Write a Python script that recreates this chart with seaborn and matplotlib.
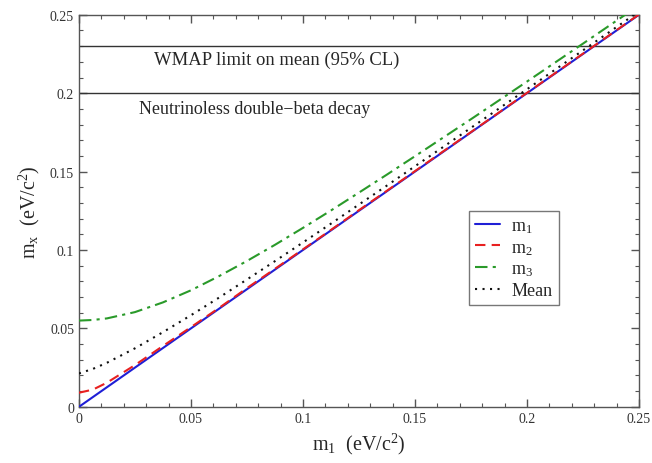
import numpy as np
import pandas as pd
import matplotlib
matplotlib.use("Agg")
import matplotlib.pyplot as plt
import seaborn as sns
from matplotlib.ticker import MultipleLocator

# ---- data ----
m1_grid = [0.0, 0.00625, 0.0125, 0.025, 0.0375, 0.05, 0.0625, 0.075, 0.0875, 0.1,
           0.1125, 0.125, 0.1375, 0.15, 0.1625, 0.175, 0.1875, 0.2, 0.2125,
           0.225, 0.2375, 0.25]
m1_vals = list(m1_grid)
m2_vals = [0.009, 0.0110, 0.0154, 0.0266, 0.0388, 0.0508, 0.0630, 0.0757, 0.0880,
           0.1004, 0.1128, 0.1254, 0.1378, 0.1503, 0.1628, 0.1752, 0.1877,
           0.2002, 0.2127, 0.2252, 0.2377, 0.2502]
m3_vals = [0.0550, 0.0554, 0.0564, 0.0604, 0.0666, 0.0743, 0.0833, 0.0930, 0.1033,
           0.1141, 0.1252, 0.1366, 0.1481, 0.1598, 0.1716, 0.1834, 0.1954,
           0.2074, 0.2195, 0.2316, 0.2438, 0.2560]
mean_vals = [0.0213, 0.0242, 0.0281, 0.0373, 0.0476, 0.0584, 0.0696, 0.0812, 0.0929,
             0.1048, 0.1168, 0.1290, 0.1411, 0.1534, 0.1656, 0.1779, 0.1902,
             0.2025, 0.2149, 0.2273, 0.2397, 0.2521]
series_names = ["m$_1$", "m$_2$", "m$_3$", "Mean"]
limit_values = [0.23, 0.20]
limit_labels = ["WMAP limit on mean (95% CL)", "Neutrinoless double\u2212beta decay"]
tick_vals = [0, 0.05, 0.1, 0.15, 0.2, 0.25]
tick_labels = ["0", "0.05", "0.1", "0.15", "0.2", "0.25"]

sns.set_style("ticks")
plt.rcParams["font.family"] = ["Liberation Serif", "DejaVu Serif"]
plt.rcParams["mathtext.fontset"] = "custom"
plt.rcParams["mathtext.rm"] = "Liberation Serif"
plt.rcParams["mathtext.it"] = "Liberation Serif"

fig = plt.figure(figsize=(6.52, 4.64), dpi=100)
ax = fig.add_axes([0.121, 0.121, 0.859, 0.845])

for yv in limit_values:
    ax.axhline(yv, color="#333333", lw=1.0, zorder=1)

styles = [("#1f1fd6", "-"), ("#e82020", (0, (5, 3))),
          ("#2a9a2a", (0, (6, 2.5, 1.5, 2.5))), ("#111111", (0, (1, 2.6)))]
vals = [m1_vals, m2_vals, m3_vals, mean_vals]
for name, v, (c, ls) in zip(series_names, vals, styles):
    df = pd.DataFrame({"m1": m1_grid, "mx": v})
    sns.lineplot(data=df, x="m1", y="mx", ax=ax, color=c, linestyle=ls, lw=1.5,
                 label=name, zorder=3)

ax.text(0.0885, 0.2215, limit_labels[0], ha="center", va="center", fontsize=13.4)
ax.text(0.0784, 0.1900, limit_labels[1], ha="center", va="center", fontsize=13)

ax.set_xlim(0, 0.25)
ax.set_ylim(0, 0.25)
ax.xaxis.set_minor_locator(MultipleLocator(0.01))
ax.yaxis.set_minor_locator(MultipleLocator(0.01))
ax.set_xticks(tick_vals)
ax.set_xticklabels(tick_labels)
ax.set_yticks(tick_vals)
ax.set_yticklabels(tick_labels)
ax.tick_params(which="both", direction="in", top=True, right=True, labelsize=10,
               color="#555555", labelcolor="#333333")
ax.tick_params(which="major", length=6, width=1)
ax.tick_params(which="minor", length=3, width=0.8)
for s in ax.spines.values():
    s.set_color("#555555")
    s.set_linewidth(1.0)

ax.set_xlabel("m$_1$  (eV/c$^2$)", fontsize=14.5, labelpad=4)
ax.set_ylabel("m$_x$  (eV/c$^2$)", fontsize=14.5, labelpad=6)

leg = ax.legend(loc="upper left", bbox_to_anchor=(0.696, 0.5), fontsize=13,
                frameon=True, fancybox=False, edgecolor="#555555",
                handlelength=1.4, handletextpad=0.6, borderpad=0.35,
                labelspacing=0.22, borderaxespad=0)
leg.get_frame().set_linewidth(1.0)

fig.savefig("out.png", dpi=100)
